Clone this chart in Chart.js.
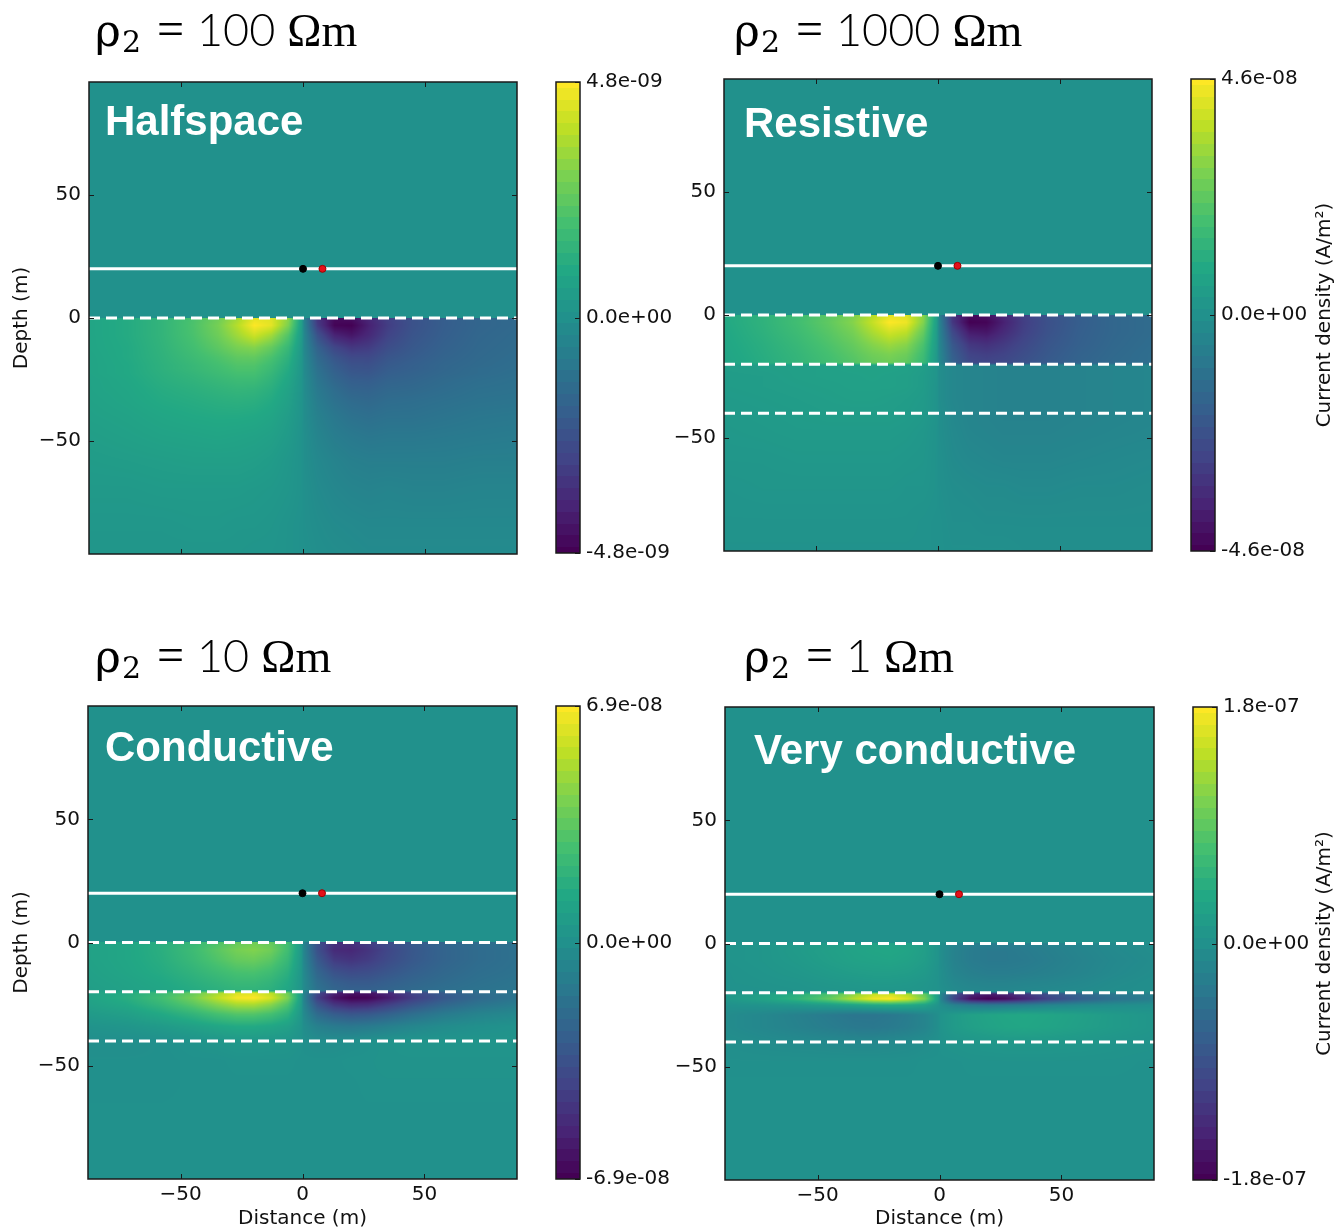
<!DOCTYPE html>
<html>
<head>
<meta charset="utf-8">
<title>Current density in a layered earth</title>
<script src="https://cdn.jsdelivr.net/npm/chart.js@4.4.1/dist/chart.umd.min.js"></script>
<style>
  html, body { margin: 0; padding: 0; background: #fff; }
  #page { position: relative; width: 1338px; height: 1230px; overflow: hidden; }
  #page canvas { position: absolute; }
</style>
</head>
<body>
<div id="page"></div>
<script>
// ---- model grid: horizontal distance (m) and depth (m) of the sampled nodes ----
const X_NODES = [-88, -72, -58, -45, -35, -27, -20, -13, -6, -0.5, 0.5, 6, 13, 20, 27, 35, 45, 58, 72, 88];
const DEPTH_NODES = [0, -3, -7, -12, -16, -19.5, -20.5, -22.5, -25, -29, -34, -40, -48, -58, -70, -84, -96];

// Current density, one column per X node (top to bottom), as a fraction of the colour limit.
const halfspaceField = [
  [0.17, 0.17, 0.17, 0.17, 0.16, 0.16, 0.16, 0.16, 0.15, 0.15, 0.14, 0.13, 0.11, 0.09, 0.07, 0.05, 0.04],
  [0.22, 0.22, 0.22, 0.21, 0.21, 0.2, 0.2, 0.2, 0.19, 0.18, 0.17, 0.15, 0.13, 0.1, 0.07, 0.05, 0.04],
  [0.3, 0.3, 0.3, 0.29, 0.28, 0.27, 0.27, 0.26, 0.25, 0.23, 0.21, 0.18, 0.15, 0.11, 0.08, 0.05, 0.04],
  [0.42, 0.43, 0.42, 0.39, 0.36, 0.33, 0.33, 0.31, 0.29, 0.26, 0.23, 0.2, 0.16, 0.12, 0.08, 0.06, 0.04],
  [0.55, 0.58, 0.55, 0.49, 0.43, 0.39, 0.38, 0.36, 0.33, 0.29, 0.25, 0.21, 0.17, 0.12, 0.08, 0.06, 0.04],
  [0.72, 0.78, 0.71, 0.59, 0.5, 0.44, 0.43, 0.4, 0.36, 0.31, 0.26, 0.21, 0.16, 0.12, 0.08, 0.05, 0.04],
  [0.92, 1.0, 0.85, 0.63, 0.51, 0.44, 0.43, 0.4, 0.36, 0.3, 0.25, 0.2, 0.15, 0.11, 0.07, 0.05, 0.03],
  [0.9, 0.92, 0.72, 0.52, 0.42, 0.36, 0.35, 0.32, 0.29, 0.25, 0.21, 0.17, 0.13, 0.09, 0.06, 0.04, 0.03],
  [0.65, 0.6, 0.45, 0.33, 0.27, 0.23, 0.22, 0.2, 0.18, 0.15, 0.13, 0.1, 0.08, 0.05, 0.04, 0.02, 0.02],
  [0.12, 0.1, 0.08, 0.06, 0.05, 0.04, 0.04, 0.04, 0.03, 0.03, 0.02, 0.02, 0.01, 0.01, 0.01, 0, 0],
  [-0.12, -0.1, -0.08, -0.07, -0.06, -0.05, -0.05, -0.05, -0.04, -0.04, -0.03, -0.03, -0.02, -0.02, -0.01, -0.01, 0],
  [-0.7, -0.65, -0.5, -0.37, -0.31, -0.27, -0.26, -0.24, -0.22, -0.19, -0.16, -0.13, -0.1, -0.07, -0.05, -0.03, -0.02],
  [-0.95, -0.98, -0.8, -0.58, -0.47, -0.41, -0.4, -0.37, -0.34, -0.29, -0.25, -0.2, -0.16, -0.11, -0.08, -0.05, -0.03],
  [-0.92, -1.0, -0.88, -0.68, -0.56, -0.49, -0.48, -0.45, -0.41, -0.36, -0.3, -0.25, -0.19, -0.14, -0.1, -0.06, -0.04],
  [-0.78, -0.82, -0.77, -0.65, -0.56, -0.5, -0.49, -0.46, -0.42, -0.37, -0.32, -0.27, -0.21, -0.15, -0.11, -0.07, -0.05],
  [-0.62, -0.64, -0.6, -0.53, -0.47, -0.43, -0.42, -0.4, -0.37, -0.33, -0.29, -0.25, -0.2, -0.15, -0.1, -0.07, -0.05],
  [-0.5, -0.5, -0.48, -0.45, -0.42, -0.39, -0.39, -0.37, -0.35, -0.32, -0.28, -0.25, -0.2, -0.15, -0.11, -0.07, -0.05],
  [-0.41, -0.41, -0.4, -0.38, -0.36, -0.34, -0.34, -0.33, -0.31, -0.29, -0.26, -0.23, -0.19, -0.15, -0.11, -0.07, -0.05],
  [-0.35, -0.35, -0.34, -0.33, -0.32, -0.31, -0.3, -0.3, -0.28, -0.26, -0.24, -0.21, -0.18, -0.14, -0.1, -0.07, -0.05],
  [-0.32, -0.32, -0.31, -0.3, -0.29, -0.28, -0.28, -0.27, -0.26, -0.25, -0.23, -0.2, -0.17, -0.14, -0.1, -0.07, -0.05]
];

const resistiveField = [
  [0.2, 0.2, 0.19, 0.18, 0.17, 0.16, 0.1, 0.1, 0.09, 0.09, 0.08, 0.07, 0.06, 0.05, 0.03, 0.02, 0.01],
  [0.28, 0.28, 0.27, 0.25, 0.24, 0.23, 0.11, 0.11, 0.1, 0.1, 0.09, 0.08, 0.07, 0.05, 0.04, 0.02, 0.01],
  [0.37, 0.38, 0.36, 0.33, 0.31, 0.3, 0.12, 0.12, 0.12, 0.11, 0.1, 0.09, 0.08, 0.06, 0.04, 0.02, 0.01],
  [0.48, 0.5, 0.47, 0.43, 0.4, 0.38, 0.13, 0.13, 0.13, 0.12, 0.11, 0.1, 0.08, 0.06, 0.04, 0.02, 0.01],
  [0.6, 0.63, 0.58, 0.52, 0.48, 0.45, 0.14, 0.14, 0.13, 0.13, 0.12, 0.1, 0.08, 0.06, 0.04, 0.02, 0.01],
  [0.78, 0.82, 0.74, 0.63, 0.56, 0.52, 0.14, 0.14, 0.14, 0.13, 0.12, 0.1, 0.08, 0.06, 0.04, 0.02, 0.01],
  [0.92, 1.0, 0.86, 0.7, 0.6, 0.55, 0.14, 0.14, 0.13, 0.13, 0.11, 0.1, 0.08, 0.06, 0.04, 0.02, 0.01],
  [0.9, 0.95, 0.8, 0.64, 0.55, 0.5, 0.13, 0.13, 0.12, 0.12, 0.1, 0.09, 0.07, 0.05, 0.03, 0.02, 0.01],
  [0.65, 0.62, 0.52, 0.42, 0.37, 0.34, 0.1, 0.1, 0.09, 0.09, 0.08, 0.07, 0.05, 0.04, 0.03, 0.01, 0.01],
  [0.12, 0.1, 0.09, 0.08, 0.07, 0.06, 0.03, 0.03, 0.03, 0.02, 0.02, 0.02, 0.01, 0.01, 0.01, 0, 0],
  [-0.12, -0.1, -0.09, -0.08, -0.07, -0.06, -0.03, -0.03, -0.03, -0.03, -0.03, -0.02, -0.02, -0.01, -0.01, 0, 0],
  [-0.7, -0.68, -0.56, -0.45, -0.4, -0.37, -0.08, -0.08, -0.08, -0.08, -0.08, -0.07, -0.06, -0.05, -0.03, -0.02, -0.01],
  [-0.95, -1.0, -0.85, -0.68, -0.6, -0.55, -0.1, -0.1, -0.1, -0.1, -0.1, -0.1, -0.09, -0.07, -0.04, -0.02, -0.01],
  [-0.92, -0.98, -0.88, -0.72, -0.63, -0.58, -0.11, -0.11, -0.11, -0.11, -0.11, -0.11, -0.1, -0.08, -0.05, -0.03, -0.01],
  [-0.78, -0.82, -0.76, -0.66, -0.6, -0.56, -0.12, -0.12, -0.12, -0.12, -0.12, -0.12, -0.11, -0.09, -0.05, -0.03, -0.01],
  [-0.62, -0.64, -0.62, -0.57, -0.53, -0.5, -0.12, -0.12, -0.12, -0.12, -0.12, -0.12, -0.11, -0.09, -0.06, -0.03, -0.02],
  [-0.5, -0.51, -0.5, -0.47, -0.45, -0.43, -0.12, -0.12, -0.12, -0.12, -0.12, -0.12, -0.11, -0.09, -0.06, -0.03, -0.02],
  [-0.4, -0.41, -0.4, -0.39, -0.37, -0.36, -0.11, -0.11, -0.11, -0.11, -0.11, -0.11, -0.1, -0.08, -0.05, -0.03, -0.02],
  [-0.34, -0.34, -0.34, -0.33, -0.32, -0.31, -0.1, -0.1, -0.1, -0.1, -0.1, -0.1, -0.09, -0.07, -0.05, -0.03, -0.02],
  [-0.3, -0.3, -0.3, -0.29, -0.28, -0.28, -0.09, -0.09, -0.09, -0.09, -0.09, -0.09, -0.08, -0.06, -0.04, -0.03, -0.02]
];

const conductiveField = [
  [0.14, 0.14, 0.14, 0.13, 0.12, 0.11, 0.14, 0.15, 0.13, 0.08, 0.02, -0.02, -0.01, -0.01, 0, 0, 0],
  [0.18, 0.18, 0.18, 0.17, 0.15, 0.14, 0.22, 0.24, 0.2, 0.12, 0.04, -0.02, -0.01, -0.01, 0, 0, 0],
  [0.24, 0.25, 0.24, 0.22, 0.19, 0.17, 0.34, 0.38, 0.32, 0.2, 0.08, -0.01, -0.01, -0.01, 0, 0, 0],
  [0.33, 0.36, 0.34, 0.29, 0.25, 0.22, 0.52, 0.58, 0.48, 0.3, 0.13, 0.02, 0, 0, 0, 0, 0],
  [0.43, 0.48, 0.44, 0.36, 0.3, 0.26, 0.72, 0.8, 0.64, 0.4, 0.18, 0.04, 0, 0, 0, 0, 0],
  [0.52, 0.58, 0.52, 0.41, 0.34, 0.29, 0.88, 0.97, 0.75, 0.46, 0.21, 0.06, 0.01, 0, 0, 0, 0],
  [0.56, 0.62, 0.54, 0.42, 0.34, 0.29, 0.9, 1.0, 0.76, 0.46, 0.21, 0.06, 0.01, 0, 0, 0, 0],
  [0.52, 0.56, 0.48, 0.37, 0.3, 0.26, 0.8, 0.88, 0.66, 0.4, 0.18, 0.05, 0.01, 0, 0, 0, 0],
  [0.38, 0.38, 0.33, 0.26, 0.21, 0.18, 0.55, 0.6, 0.45, 0.28, 0.13, 0.04, 0.01, 0, 0, 0, 0],
  [0.08, 0.07, 0.06, 0.05, 0.04, 0.04, 0.1, 0.1, 0.08, 0.05, 0.03, 0.01, 0, 0, 0, 0, 0],
  [-0.1, -0.09, -0.08, -0.06, -0.05, -0.05, -0.1, -0.11, -0.09, -0.06, -0.03, -0.01, 0, 0, 0, 0, 0],
  [-0.5, -0.5, -0.43, -0.34, -0.28, -0.24, -0.55, -0.62, -0.48, -0.3, -0.13, -0.03, 0, 0, 0, 0, 0],
  [-0.72, -0.76, -0.66, -0.5, -0.4, -0.34, -0.8, -0.9, -0.7, -0.42, -0.18, -0.03, 0, 0, 0, 0, 0],
  [-0.72, -0.78, -0.7, -0.55, -0.44, -0.38, -0.9, -1.0, -0.78, -0.47, -0.2, -0.02, 0.01, 0, 0, 0, 0],
  [-0.64, -0.7, -0.65, -0.53, -0.44, -0.38, -0.9, -0.98, -0.76, -0.45, -0.18, 0, 0.01, 0.01, 0, 0, 0],
  [-0.54, -0.58, -0.55, -0.47, -0.4, -0.35, -0.78, -0.85, -0.65, -0.38, -0.14, 0.02, 0.02, 0.01, 0, 0, 0],
  [-0.44, -0.46, -0.45, -0.4, -0.35, -0.31, -0.6, -0.65, -0.5, -0.28, -0.09, 0.03, 0.02, 0.01, 0, 0, 0],
  [-0.35, -0.36, -0.36, -0.33, -0.3, -0.27, -0.42, -0.46, -0.35, -0.18, -0.04, 0.03, 0.02, 0.01, 0, 0, 0],
  [-0.29, -0.3, -0.3, -0.28, -0.26, -0.24, -0.3, -0.32, -0.24, -0.11, -0.01, 0.03, 0.02, 0.01, 0, 0, 0],
  [-0.25, -0.26, -0.26, -0.25, -0.23, -0.22, -0.22, -0.23, -0.17, -0.07, 0.01, 0.03, 0.02, 0.01, 0, 0, 0]
];

const veryConductiveField = [
  [0.02, 0.02, 0.02, 0.01, 0.01, 0, 0.04, 0.05, 0, -0.04, -0.04, -0.02, -0.01, 0, 0, 0, 0],
  [0.04, 0.04, 0.04, 0.03, 0.02, 0.01, 0.12, 0.15, 0.02, -0.08, -0.08, -0.04, -0.01, 0, 0, 0, 0],
  [0.07, 0.08, 0.07, 0.05, 0.03, 0.02, 0.25, 0.3, 0.05, -0.13, -0.12, -0.05, -0.01, 0, 0, 0, 0],
  [0.1, 0.12, 0.11, 0.08, 0.05, 0.03, 0.42, 0.52, 0.1, -0.18, -0.16, -0.06, -0.01, 0, 0, 0, 0],
  [0.13, 0.15, 0.14, 0.1, 0.06, 0.04, 0.65, 0.78, 0.15, -0.22, -0.19, -0.07, -0.01, 0, 0, 0, 0],
  [0.15, 0.17, 0.15, 0.11, 0.07, 0.04, 0.82, 0.96, 0.2, -0.22, -0.2, -0.07, -0.01, 0, 0, 0, 0],
  [0.15, 0.18, 0.16, 0.11, 0.07, 0.04, 0.85, 1.0, 0.22, -0.2, -0.18, -0.06, -0.01, 0, 0, 0, 0],
  [0.14, 0.16, 0.14, 0.1, 0.06, 0.04, 0.75, 0.88, 0.2, -0.16, -0.15, -0.05, -0.01, 0, 0, 0, 0],
  [0.1, 0.11, 0.1, 0.07, 0.04, 0.03, 0.5, 0.6, 0.14, -0.1, -0.1, -0.03, 0, 0, 0, 0, 0],
  [0.02, 0.02, 0.02, 0.01, 0.01, 0.01, 0.08, 0.1, 0.02, -0.02, -0.02, -0.01, 0, 0, 0, 0, 0],
  [-0.02, -0.03, -0.03, -0.02, -0.02, -0.01, -0.08, -0.1, -0.02, 0.02, 0.02, 0.01, 0, 0, 0, 0, 0],
  [-0.1, -0.12, -0.12, -0.1, -0.07, -0.05, -0.5, -0.6, -0.12, 0.08, 0.08, 0.03, 0, 0, 0, 0, 0],
  [-0.14, -0.17, -0.17, -0.14, -0.1, -0.07, -0.78, -0.92, -0.18, 0.13, 0.12, 0.04, 0.01, 0, 0, 0, 0],
  [-0.15, -0.19, -0.19, -0.16, -0.11, -0.08, -0.85, -1.0, -0.2, 0.16, 0.15, 0.05, 0.01, 0, 0, 0, 0],
  [-0.15, -0.19, -0.19, -0.16, -0.11, -0.08, -0.8, -0.95, -0.18, 0.18, 0.17, 0.06, 0.01, 0, 0, 0, 0],
  [-0.14, -0.17, -0.18, -0.15, -0.1, -0.07, -0.68, -0.8, -0.15, 0.19, 0.18, 0.06, 0.01, 0, 0, 0, 0],
  [-0.12, -0.14, -0.15, -0.13, -0.09, -0.06, -0.5, -0.6, -0.1, 0.17, 0.16, 0.06, 0.01, 0, 0, 0, 0],
  [-0.09, -0.1, -0.11, -0.1, -0.07, -0.05, -0.33, -0.4, -0.06, 0.13, 0.12, 0.05, 0.01, 0, 0, 0, 0],
  [-0.05, -0.06, -0.07, -0.06, -0.04, -0.03, -0.2, -0.25, -0.03, 0.08, 0.08, 0.03, 0.01, 0, 0, 0, 0],
  [-0.03, -0.03, -0.04, -0.03, -0.02, -0.02, -0.12, -0.15, -0.01, 0.04, 0.04, 0.02, 0, 0, 0, 0, 0]
];

const FIELDS = [halfspaceField, resistiveField, conductiveField, veryConductiveField];
const RHO2 = [100, 1000, 10, 1];                           // layer-2 resistivity, Ωm
const PANEL_NAMES = ['Halfspace', 'Resistive', 'Conductive', 'Very conductive'];
const COLOUR_LIMITS = [4.8e-9, 4.6e-8, 6.9e-8, 1.8e-7];    // A/m²
const LAYER_BOUNDARIES = [[0], [0, -20, -40], [0, -20, -40], [0, -20, -40]];
const SURFACE_LEVEL = 20;
const ELECTRODE_X = [0, 8];
const DISTANCE_RANGE = [-88, 88];
const DEPTH_RANGE = [-96, 96];
const DISTANCE_TICKS = [-50, 0, 50];
const DEPTH_TICKS = [-50, 0, 50];

// ---- page layout (pixels) ----
const LAYOUT = [
  { area: { l: 89, t: 82, r: 517, b: 554 }, canvas: { x: 0, y: 0, w: 545, h: 600 },
    bar: { l: 556, t: 82, r: 580, b: 553 }, barCanvas: { x: 545, y: 40, w: 150, h: 560 },
    title: { x: 97, base: 46 }, label: { x: 105, base: 135 },
    xTitle: false, yTitle: true, barTitle: false },
  { area: { l: 724, t: 79, r: 1152, b: 551 }, canvas: { x: 640, y: 0, w: 525, h: 600 },
    bar: { l: 1191, t: 79, r: 1215, b: 551 }, barCanvas: { x: 1165, y: 40, w: 173, h: 560 },
    title: { x: 736, base: 46 }, label: { x: 744, base: 137 },
    xTitle: false, yTitle: false, barTitle: true },
  { area: { l: 88, t: 706, r: 517, b: 1179 }, canvas: { x: 0, y: 610, w: 545, h: 620 },
    bar: { l: 556, t: 706, r: 580, b: 1179 }, barCanvas: { x: 545, y: 660, w: 150, h: 560 },
    title: { x: 97, base: 672 }, label: { x: 105, base: 761 },
    xTitle: true, yTitle: true, barTitle: false },
  { area: { l: 725, t: 707, r: 1154, b: 1180 }, canvas: { x: 640, y: 610, w: 525, h: 620 },
    bar: { l: 1193, t: 707, r: 1217, b: 1180 }, barCanvas: { x: 1165, y: 660, w: 173, h: 560 },
    title: { x: 746, base: 672 }, label: { x: 754, base: 764 },
    xTitle: true, yTitle: false, barTitle: true }
];

Chart.defaults.font.family = '"DejaVu Sans", sans-serif';
Chart.defaults.color = '#111';
const TICK_FONT = { family: '"DejaVu Sans", sans-serif', size: 20 };

// ---- viridis colour map ----
const VIRIDIS = ['#440154', '#482475', '#414487', '#355f8d', '#2a788e', '#21918c',
                 '#22a884', '#44bf70', '#7ad151', '#bddf26', '#fde725'];
const VIRIDIS_RGB = VIRIDIS.map(h => [1, 3, 5].map(o => parseInt(h.slice(o, o + 2), 16)));
const BAR_LEVELS = 40;

function viridis(t) {
  t = Math.max(0, Math.min(1, t));
  const p = t * (VIRIDIS_RGB.length - 1);
  const i = Math.min(VIRIDIS_RGB.length - 2, Math.floor(p));
  const f = p - i, a = VIRIDIS_RGB[i], b = VIRIDIS_RGB[i + 1];
  return [a[0] + (b[0] - a[0]) * f, a[1] + (b[1] - a[1]) * f, a[2] + (b[2] - a[2]) * f];
}
function fieldColour(frac) { return viridis((frac + 1) / 2); }
// the colour bar shows the discrete contour levels
function barColour(frac) {
  return viridis(Math.round(((frac + 1) / 2) * BAR_LEVELS) / BAR_LEVELS);
}

function bracket(nodes, v, descending) {
  const n = nodes.length;
  if (!descending) {
    if (v <= nodes[0]) return [0, 0];
    if (v >= nodes[n - 1]) return [n - 2, 1];
    let i = 0; while (nodes[i + 1] < v) i++;
    return [i, (v - nodes[i]) / (nodes[i + 1] - nodes[i])];
  }
  if (v >= nodes[0]) return [0, 0];
  if (v <= nodes[n - 1]) return [n - 2, 1];
  let i = 0; while (nodes[i + 1] > v) i++;
  return [i, (nodes[i] - v) / (nodes[i] - nodes[i + 1])];
}

// shade between the sampled nodes (gouraud-like)
function sampleField(field, x, depth) {
  if (depth > 0) return 0;                       // air above the surface carries no current
  const [i, fx] = bracket(X_NODES, x, false);
  const [j, fy] = bracket(DEPTH_NODES, depth, true);
  const top = field[i][j] * (1 - fx) + field[i + 1][j] * fx;
  const bot = field[i][j + 1] * (1 - fx) + field[i + 1][j + 1] * fx;
  return top * (1 - fy) + bot * fy;
}

function minusSign(v) { return v < 0 ? '\u2212' + Math.abs(v) : String(v); }
function sciLabel(v) {
  if (v === 0) return '0.0e+00';
  const [m, e] = v.toExponential(1).split('e');
  const sign = e[0] === '-' ? '-' : '+';
  return m + 'e' + sign + e.replace(/^[+-]/, '').padStart(2, '0');
}

function makeCanvas(r) {
  const c = document.createElement('canvas');
  c.width = r.w; c.height = r.h;
  c.style.left = r.x + 'px'; c.style.top = r.y + 'px';
  c.style.width = r.w + 'px'; c.style.height = r.h + 'px';
  document.getElementById('page').appendChild(c);
  return c;
}

// ---- plugins ----
const fieldPlugin = {
  id: 'fieldShading',
  beforeDatasetsDraw(chart, args, opts) {
    const field = FIELDS[opts.panel];
    const { ctx, chartArea: a, scales: { x: xs, y: ys } } = chart;
    const w = Math.round(a.right - a.left), h = Math.round(a.bottom - a.top);
    const off = document.createElement('canvas');
    off.width = w; off.height = h;
    const octx = off.getContext('2d');
    const img = octx.createImageData(w, h);
    const xv = new Float64Array(w);
    for (let px = 0; px < w; px++) xv[px] = xs.getValueForPixel(a.left + px + 0.5);
    for (let py = 0; py < h; py++) {
      const yv = ys.getValueForPixel(a.top + py + 0.5);
      for (let px = 0; px < w; px++) {
        const c = fieldColour(sampleField(field, xv[px], yv));
        const k = (py * w + px) * 4;
        img.data[k] = c[0]; img.data[k + 1] = c[1]; img.data[k + 2] = c[2]; img.data[k + 3] = 255;
      }
    }
    octx.putImageData(img, 0, 0);
    ctx.drawImage(off, a.left, a.top);
  }
};

const framePlugin = {
  id: 'frame',
  afterDatasetsDraw(chart) {
    const { ctx, chartArea: a, scales: { x, y } } = chart;
    ctx.save();
    ctx.strokeStyle = '#1a1a1a';
    ctx.lineWidth = 1;
    ctx.beginPath();
    DISTANCE_TICKS.forEach(v => {
      const px = Math.round(x.getPixelForValue(v)) + 0.5;
      ctx.moveTo(px, a.bottom); ctx.lineTo(px, a.bottom - 5);
      ctx.moveTo(px, a.top); ctx.lineTo(px, a.top + 5);
    });
    DEPTH_TICKS.forEach(v => {
      const py = Math.round(y.getPixelForValue(v)) + 0.5;
      ctx.moveTo(a.left, py); ctx.lineTo(a.left + 5, py);
      ctx.moveTo(a.right, py); ctx.lineTo(a.right - 5, py);
    });
    ctx.stroke();
    ctx.lineWidth = 1.5;
    ctx.strokeRect(a.left, a.top, a.right - a.left, a.bottom - a.top);
    ctx.restore();
  }
};

function drawRhoTitle(ctx, x, base, rho) {
  ctx.fillStyle = '#000';
  ctx.textAlign = 'left';
  ctx.textBaseline = 'alphabetic';
  ctx.font = '44px "DejaVu Serif"';
  ctx.fillText('\u03c1', x - 2, base);
  ctx.font = '30px "DejaVu Serif"';
  ctx.fillText('2', x + 25, base + 6);
  ctx.font = '48px "Liberation Serif"';
  ctx.fillText('=', x + 60, base - 1);
  const num = String(rho);
  ctx.font = '300 45px Lato';
  ctx.fillText(num, x + 100, base);
  const w = ctx.measureText(num).width;
  ctx.font = '46px "Liberation Serif"';
  ctx.fillText('\u03a9m', x + 100 + w + 12, base);
}

const textPlugin = {
  id: 'panelText',
  afterDraw(chart, args, opts) {
    const k = opts.panel, L = LAYOUT[k], ctx = chart.ctx;
    ctx.save();
    ctx.translate(-L.canvas.x, -L.canvas.y);
    drawRhoTitle(ctx, L.title.x, L.title.base, RHO2[k]);

    ctx.font = 'bold 42px "Liberation Sans"';
    ctx.fillStyle = '#fff';
    ctx.textAlign = 'left';
    ctx.textBaseline = 'alphabetic';
    ctx.fillText(PANEL_NAMES[k], L.label.x, L.label.base);

    ctx.fillStyle = '#111';
    ctx.font = '20px "DejaVu Sans"';
    ctx.textAlign = 'center';
    ctx.textBaseline = 'middle';
    if (L.xTitle) ctx.fillText('Distance (m)', (L.area.l + L.area.r) / 2, 1219);
    if (L.yTitle) {
      ctx.save();
      ctx.translate(22, (L.area.t + L.area.b) / 2);
      ctx.rotate(-Math.PI / 2);
      ctx.fillText('Depth (m)', 0, 0);
      ctx.restore();
    }
    ctx.restore();
  }
};

const barPlugin = {
  id: 'colourBar',
  beforeDatasetsDraw(chart, args, opts) {
    const { ctx, chartArea: a, scales: { y } } = chart;
    const vmax = COLOUR_LIMITS[opts.panel];
    for (let py = Math.floor(a.top); py < Math.ceil(a.bottom); py++) {
      const v = y.getValueForPixel(py + 0.5);
      const c = barColour(v / vmax);
      ctx.fillStyle = `rgb(${c[0] | 0},${c[1] | 0},${c[2] | 0})`;
      ctx.fillRect(a.left, py, a.right - a.left, 1);
    }
  },
  afterDraw(chart, args, opts) {
    const { ctx, chartArea: a, scales: { y } } = chart;
    const L = LAYOUT[opts.panel];
    ctx.save();
    ctx.strokeStyle = '#1a1a1a';
    ctx.lineWidth = 1;
    ctx.beginPath();
    y.ticks.forEach(t => {
      const py = Math.round(y.getPixelForValue(t.value)) + 0.5;
      ctx.moveTo(a.right, py); ctx.lineTo(a.right - 5, py);
    });
    ctx.stroke();
    ctx.lineWidth = 1.5;
    ctx.strokeRect(a.left, a.top, a.right - a.left, a.bottom - a.top);
    if (L.barTitle) {
      ctx.fillStyle = '#111';
      ctx.font = '20px "DejaVu Sans"';
      ctx.textAlign = 'center';
      ctx.textBaseline = 'middle';
      ctx.translate(1325 - L.barCanvas.x, (a.top + a.bottom) / 2);
      ctx.rotate(-Math.PI / 2);
      ctx.fillText('Current density (A/m\u00b2)', 0, 0);
    }
    ctx.restore();
  }
};

// ---- build the four panels ----
function buildPanel(k) {
  const L = LAYOUT[k], A = L.area, C = L.canvas;
  const canvas = makeCanvas(C);
  const datasets = [];
  // electrodes sit on top of the lines (lower order is drawn last)
  const dotFill = ['#000000', '#e3101a'], dotEdge = ['#000000', '#a00000'];
  ELECTRODE_X.forEach((x, i) => datasets.push({
    data: [{ x, y: SURFACE_LEVEL }], order: 0,
    pointRadius: 3.5, pointBorderWidth: 1,
    pointBackgroundColor: dotFill[i], pointBorderColor: dotEdge[i]
  }));
  datasets.push({
    data: DISTANCE_RANGE.map(x => ({ x, y: SURFACE_LEVEL })), order: 1,
    showLine: true, borderColor: '#ffffff', borderWidth: 3, pointRadius: 0
  });
  LAYER_BOUNDARIES[k].forEach(d => datasets.push({
    data: DISTANCE_RANGE.map(x => ({ x, y: d })), order: 1,
    showLine: true, borderColor: '#ffffff', borderWidth: 3, borderDash: [11, 6], pointRadius: 0
  }));

  new Chart(canvas, {
    type: 'scatter',
    data: { datasets },
    options: {
      responsive: false, animation: false, devicePixelRatio: 1, events: [],
      layout: { padding: { left: 0, bottom: 0, top: A.t - C.y, right: C.x + C.w - A.r } },
      scales: {
        x: {
          type: 'linear', position: 'bottom', min: DISTANCE_RANGE[0], max: DISTANCE_RANGE[1],
          afterBuildTicks: s => { s.ticks = DISTANCE_TICKS.map(v => ({ value: v })); },
          afterFit: s => { s.height = C.y + C.h - A.b; },
          grid: { display: false, drawTicks: false }, border: { display: false },
          ticks: { display: L.xTitle, padding: 4, maxRotation: 0, font: TICK_FONT, color: '#111',
                   callback: v => minusSign(v) }
        },
        y: {
          type: 'linear', position: 'left', min: DEPTH_RANGE[0], max: DEPTH_RANGE[1],
          afterBuildTicks: s => { s.ticks = DEPTH_TICKS.map(v => ({ value: v })); },
          afterFit: s => { s.width = A.l - C.x; },
          grid: { display: false, drawTicks: false }, border: { display: false },
          ticks: { padding: 8, font: TICK_FONT, color: '#111', callback: v => minusSign(v) }
        }
      },
      plugins: {
        legend: { display: false }, tooltip: { enabled: false },
        fieldShading: { panel: k }, panelText: { panel: k }
      }
    },
    plugins: [fieldPlugin, framePlugin, textPlugin]
  });

  // colour bar with its own value axis
  const B = L.bar, BC = L.barCanvas, vmax = COLOUR_LIMITS[k];
  const barCanvas = makeCanvas(BC);
  new Chart(barCanvas, {
    type: 'scatter',
    data: { datasets: [] },
    options: {
      responsive: false, animation: false, devicePixelRatio: 1, events: [],
      layout: { padding: { left: B.l - BC.x, top: B.t - BC.y, bottom: BC.y + BC.h - B.b, right: 0 } },
      scales: {
        x: { display: false, min: 0, max: 1 },
        y: {
          type: 'linear', position: 'right', min: -vmax, max: vmax,
          afterBuildTicks: s => { s.ticks = [-vmax, 0, vmax].map(v => ({ value: v })); },
          afterFit: s => { s.width = BC.x + BC.w - B.r; },
          grid: { display: false, drawTicks: false }, border: { display: false },
          ticks: { padding: 6, font: TICK_FONT, color: '#111', callback: v => sciLabel(v) }
        }
      },
      plugins: { legend: { display: false }, tooltip: { enabled: false }, colourBar: { panel: k } }
    },
    plugins: [barPlugin]
  });
}

for (let k = 0; k < 4; k++) buildPanel(k);
</script>
</body>
</html>
